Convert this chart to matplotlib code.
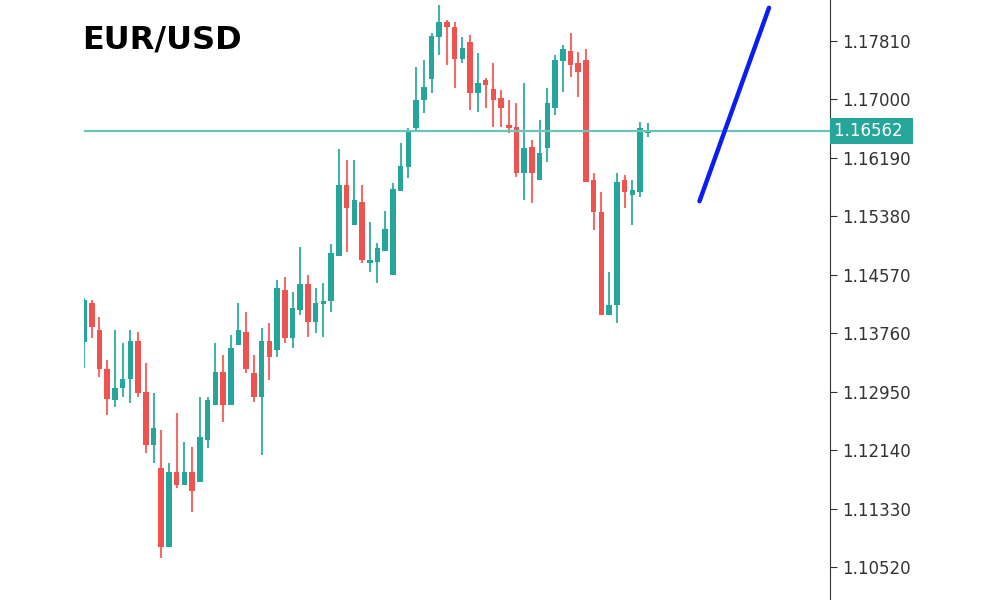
import matplotlib
matplotlib.use("Agg")
import matplotlib.pyplot as plt

# OHLC
opens = [1.1364, 1.1418, 1.1380, 1.1326, 1.1283, 1.1300, 1.1312, 1.1365, 1.1294, 1.1221,
         1.1189, 1.1080, 1.1184, 1.1166, 1.1184, 1.1170, 1.1228, 1.1277, 1.1322, 1.1277,
         1.1359, 1.1377, 1.1321, 1.1288, 1.1365, 1.1353, 1.1436, 1.1369, 1.1408, 1.1444,
         1.1391, 1.1416, 1.1420, 1.1483, 1.1581, 1.1526, 1.1558, 1.1473, 1.1475, 1.1490,
         1.1457, 1.1573, 1.1606, 1.1660, 1.1699, 1.1728, 1.1787, 1.1807, 1.1800, 1.1756,
         1.1780, 1.1709, 1.1727, 1.1715, 1.1702, 1.1665, 1.1662, 1.1598, 1.1634, 1.1588,
         1.1633, 1.1688, 1.1753, 1.1767, 1.1750, 1.1755, 1.1588, 1.1544, 1.1401, 1.1415,
         1.1588, 1.1567, 1.1572, 1.1653]
highs = [1.1425, 1.1422, 1.1398, 1.1339, 1.1380, 1.1362, 1.1380, 1.1377, 1.1335, 1.1293,
         1.1242, 1.1196, 1.1265, 1.1225, 1.1218, 1.1288, 1.1288, 1.1362, 1.1346, 1.1373,
         1.1418, 1.1405, 1.1346, 1.1383, 1.1390, 1.1450, 1.1454, 1.1433, 1.1496, 1.1457,
         1.1439, 1.1446, 1.1500, 1.1631, 1.1616, 1.1616, 1.1581, 1.1530, 1.1501, 1.1545,
         1.1584, 1.1640, 1.1660, 1.1745, 1.1755, 1.1792, 1.1831, 1.1810, 1.1807, 1.1787,
         1.1789, 1.1764, 1.1730, 1.1750, 1.1713, 1.1699, 1.1695, 1.1723, 1.1644, 1.1672,
         1.1716, 1.1762, 1.1775, 1.1792, 1.1766, 1.1770, 1.1598, 1.1572, 1.1461, 1.1598,
         1.1595, 1.1588, 1.1669, 1.1667]
lows = [1.1328, 1.1369, 1.1315, 1.1263, 1.1274, 1.1288, 1.1279, 1.1288, 1.1210, 1.1196,
        1.1064, 1.1080, 1.1161, 1.1166, 1.1128, 1.1170, 1.1217, 1.1277, 1.1253, 1.1277,
        1.1359, 1.1321, 1.1281, 1.1207, 1.1311, 1.1343, 1.1362, 1.1355, 1.1401, 1.1371,
        1.1376, 1.1371, 1.1405, 1.1483, 1.1489, 1.1526, 1.1473, 1.1461, 1.1446, 1.1490,
        1.1457, 1.1573, 1.1591, 1.1655, 1.1681, 1.1709, 1.1762, 1.1748, 1.1716, 1.1750,
        1.1685, 1.1683, 1.1688, 1.1662, 1.1662, 1.1653, 1.1593, 1.1561, 1.1556, 1.1588,
        1.1613, 1.1678, 1.1710, 1.1731, 1.1703, 1.1586, 1.1519, 1.1401, 1.1401, 1.1390,
        1.1549, 1.1526, 1.1565, 1.1648]
closes = [1.1422, 1.1385, 1.1326, 1.1285, 1.1300, 1.1312, 1.1365, 1.1293, 1.1221, 1.1245,
          1.1080, 1.1184, 1.1166, 1.1184, 1.1157, 1.1232, 1.1283, 1.1322, 1.1277, 1.1355,
          1.1380, 1.1326, 1.1288, 1.1365, 1.1343, 1.1438, 1.1369, 1.1411, 1.1444, 1.1391,
          1.1418, 1.1421, 1.1487, 1.1581, 1.1549, 1.1561, 1.1477, 1.1477, 1.1494, 1.1520,
          1.1576, 1.1608, 1.1658, 1.1699, 1.1717, 1.1788, 1.1807, 1.1800, 1.1756, 1.1771,
          1.1709, 1.1723, 1.1720, 1.1699, 1.1688, 1.1660, 1.1598, 1.1633, 1.1598, 1.1626,
          1.1695, 1.1755, 1.1770, 1.1748, 1.1738, 1.1586, 1.1544, 1.1401, 1.1415, 1.1586,
          1.1572, 1.1574, 1.1660, 1.1656]

current_price = 1.16562
tick_values = [1.17810, 1.17000, 1.16190, 1.15380, 1.14570, 1.13760, 1.12950, 1.12140, 1.11330, 1.10520]
arrow_x = [79.7, 88.7]
arrow_y = [1.1559, 1.1827]

green = "#26a69a"
red = "#ef5350"

fig = plt.figure(figsize=(10, 6), dpi=100)
ax = fig.add_axes([0.084, 0.0, 0.746, 1.0])

for i in range(len(opens)):
    o, h, l, c = opens[i], highs[i], lows[i], closes[i]
    col = green if c >= o else red
    ax.vlines(i, l, h, color=col, linewidth=1.5, alpha=0.85)
    ax.bar(i, max(abs(c - o), 0.00005), bottom=min(o, c), width=0.72, color=col, linewidth=0)

ax.axhline(current_price, color="#6cc4b8", linewidth=1.6)
ax.plot(arrow_x, arrow_y, color="#0a1ef0", linewidth=3.2, solid_capstyle="round")

ax.set_xlim(0, 96.6)
ax.set_ylim(1.10062, 1.18378)

for s in ["top", "left", "bottom"]:
    ax.spines[s].set_visible(False)
ax.spines["right"].set_color("#333333")
ax.yaxis.tick_right()
ax.set_yticks(tick_values)
ax.set_yticklabels(["%.5f" % v for v in tick_values], fontsize=12, color="#333333")
ax.tick_params(axis="y", length=5, color="#333333")
ax.set_xticks([])

ax.text(1.006, current_price, "%.5f " % current_price, transform=ax.get_yaxis_transform(),
        fontsize=12, color="white", va="center", ha="left",
        bbox=dict(boxstyle="square,pad=0.25", facecolor="#26a69a", edgecolor="none"))

fig.text(0.082, 0.933, "EUR/USD", fontsize=23, fontweight="bold", color="black", va="center")

fig.savefig("out.png")
